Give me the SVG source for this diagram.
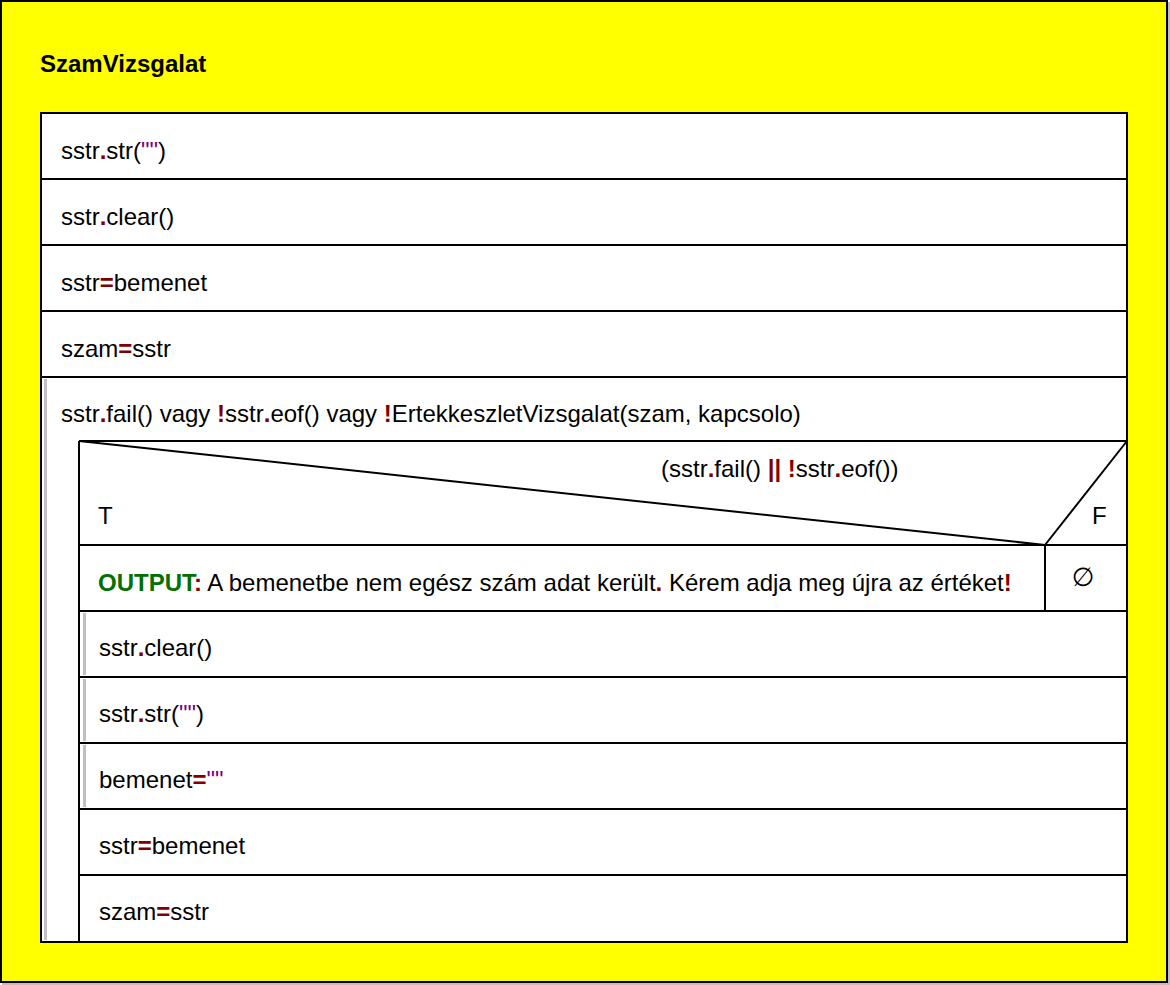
<svg xmlns="http://www.w3.org/2000/svg" width="1170" height="985" viewBox="0 0 1170 985">
<style>
.t{font-family:"Liberation Sans",Arial,sans-serif;font-size:24px;fill:#000}
.b{font-weight:bold}
.r{fill:#800000;font-weight:bold}
.p{fill:#800080}
.g{fill:#007000;font-weight:bold}
.ln{stroke:#000;stroke-width:2;fill:none}
.bar{fill:#c0c0c0}
</style>
<rect x="1168" y="2" width="2" height="983" fill="#c0c0c0"/>
<rect x="2" y="983" width="1168" height="2" fill="#c0c0c0"/>
<g id="main">
<rect x="1" y="1" width="1166" height="981" fill="#ffff00" stroke="#000" stroke-width="2"/>
<text class="t b" x="40" y="72">SzamVizsgalat</text>
<rect x="41" y="113" width="1086" height="829" style="fill:#fff;stroke:#000;stroke-width:2"/>
</g>
<g id="connectors">
<line class="ln" x1="41" y1="179" x2="1127" y2="179"/>
<line class="ln" x1="41" y1="245" x2="1127" y2="245"/>
<line class="ln" x1="41" y1="311" x2="1127" y2="311"/>
<line class="ln" x1="41" y1="377" x2="1127" y2="377"/>
<line class="ln" x1="79" y1="441" x2="1127" y2="441"/>
<line class="ln" x1="79" y1="441" x2="79" y2="942"/>
<line class="ln" x1="79" y1="545" x2="1127" y2="545"/>
<line class="ln" x1="79" y1="441" x2="1045" y2="545"/>
<line class="ln" x1="1045" y1="545" x2="1127" y2="441"/>
<line class="ln" x1="1045" y1="545" x2="1045" y2="611"/>
<line class="ln" x1="79" y1="611" x2="1127" y2="611"/>
<line class="ln" x1="79" y1="677" x2="1127" y2="677"/>
<line class="ln" x1="79" y1="743" x2="1127" y2="743"/>
<line class="ln" x1="79" y1="809" x2="1127" y2="809"/>
<line class="ln" x1="79" y1="875" x2="1127" y2="875"/>
</g>
<g id="s1"><text class="t" x="61" y="158.5">sstr<tspan class="r">.</tspan>str(<tspan class="p">""</tspan>)</text></g>
<g id="s2"><text class="t" x="61" y="224.5">sstr<tspan class="r">.</tspan>clear()</text></g>
<g id="s3"><text class="t" x="61" y="290.5">sstr<tspan class="r">=</tspan>bemenet</text></g>
<g id="s4"><text class="t" x="61" y="356.5">szam<tspan class="r">=</tspan>sstr</text></g>
<g id="loop">
<rect class="bar" x="44" y="379" width="3" height="561"/>
<text class="t" x="61" y="422">sstr<tspan class="r">.</tspan>fail() vagy <tspan class="r">!</tspan>sstr<tspan class="r">.</tspan>eof() vagy <tspan class="r">!</tspan>ErtekkeszletVizsgalat(szam, kapcsolo)</text>
</g>
<g id="if">
<text class="t" x="661" y="477">(sstr<tspan class="r">.</tspan>fail() <tspan class="r">||</tspan> <tspan class="r">!</tspan>sstr<tspan class="r">.</tspan>eof())</text>
<text class="t" x="98" y="524">T</text>
<text class="t" x="1092" y="524">F</text>
</g>
<g id="output"><text class="t" x="98" y="590.5"><tspan class="g">OUTPUT</tspan><tspan class="r">:</tspan> A bemenetbe nem egész szám adat került<tspan class="r">.</tspan> Kérem adja meg újra az értéket<tspan class="r">!</tspan></text></g>
<g id="empty"><text x="1083" y="586" text-anchor="middle" style="font-family:'DejaVu Sans',sans-serif;font-size:26px;fill:#000">∅</text></g>
<g id="b1"><rect class="bar" x="83" y="613" width="3" height="62"/><text class="t" x="99" y="656">sstr<tspan class="r">.</tspan>clear()</text></g>
<g id="b2"><rect class="bar" x="83" y="679" width="3" height="62"/><text class="t" x="99" y="722">sstr<tspan class="r">.</tspan>str(<tspan class="p">""</tspan>)</text></g>
<g id="b3"><rect class="bar" x="83" y="745" width="3" height="62"/><text class="t" x="99" y="788">bemenet<tspan class="r">=</tspan><tspan class="p">""</tspan></text></g>
<g id="b4"><text class="t" x="99" y="854">sstr<tspan class="r">=</tspan>bemenet</text></g>
<g id="b5"><text class="t" x="99" y="920">szam<tspan class="r">=</tspan>sstr</text></g>
</svg>
